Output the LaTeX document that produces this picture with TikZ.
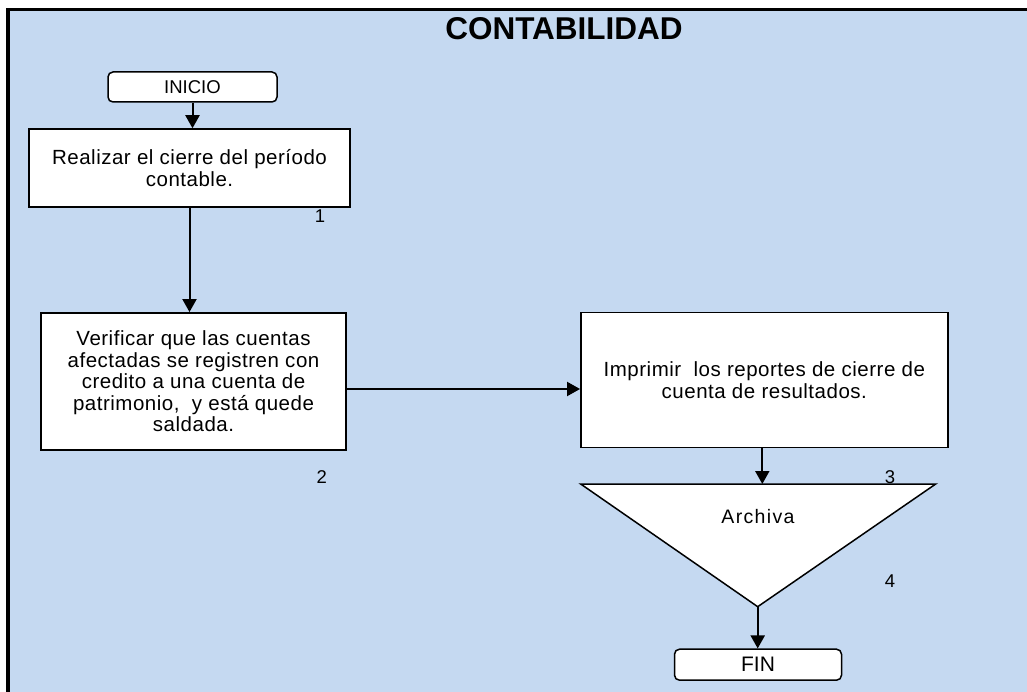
\documentclass[tikz,border=0pt]{standalone}
\usepackage{fontspec}
\setmainfont{Liberation Sans}
\newfontfamily\spacedfont[LetterSpace=2.5]{Liberation Sans}
\newfontfamily\widefont[LetterSpace=7]{Liberation Sans}
\usetikzlibrary{arrows.meta}
\definecolor{bgblue}{RGB}{197,217,241}
\tikzset{
  boxtext/.style={font=\spacedfont\fontsize{20.5}{21.5}\selectfont, align=center},
  procbox/.style={draw=black, line width=1.5pt, fill=white, rectangle, inner sep=0pt, boxtext},
  termbox/.style={draw=black, line width=1.5pt, fill=white, rectangle, rounded corners=5pt, inner sep=0pt},
  flow/.style={line width=2pt, -{Triangle[length=13pt,width=14pt]}},
  numlabel/.style={font=\fontsize{18.5}{20}\selectfont, inner sep=0pt}
}
\begin{document}
\begin{tikzpicture}[x=1pt,y=-1pt]
\useasboundingbox (0,0) rectangle (1027,692);
\fill[bgblue] (8,9.5) rectangle (1027,692);
\draw[line width=3.2pt] (8,692) -- (8,9.5) -- (1027,9.5);

\node[font=\fontsize{31.5}{33}\selectfont\bfseries, inner sep=0pt] (title) at (564,29) {CONTABILIDAD};

\node[termbox, minimum width=169pt, minimum height=30pt, font=\fontsize{18.5}{20}\selectfont] (inicio) at (192.5,87) {INICIO};

\node[procbox, minimum width=321pt, minimum height=78pt] (box1) at (189.5,168) {Realizar el cierre del período\\contable.};

\node[procbox, minimum width=305pt, minimum height=137pt] (box2) at (193.5,381.3) {Verificar que las cuentas\\afectadas se registren con\\credito a una cuenta de\\patrimonio,\ \ y está quede\\saldada.};

\node[procbox, minimum width=367pt, minimum height=135pt] (box3) at (764.3,380.2) {Imprimir\ \ los\ reportes de cierre de\\cuenta de resultados.};

\coordinate (tl) at (580.7,484);
\coordinate (tr) at (935.7,484);
\coordinate (ta) at (757.7,606.7);
\coordinate (tritop) at (762,484);
\draw[line width=1.5pt, fill=white, line join=miter] (tl) -- (tr) -- (ta) -- cycle;
\node[font=\widefont\fontsize{19.5}{21}\selectfont, inner sep=0pt] (archiva) at (758,516.7) {Archiva};

\node[termbox, minimum width=167pt, minimum height=31pt, font=\fontsize{21}{22}\selectfont] (fin) at (758,664.7) {FIN};

\node[numlabel] (n1) at (320,216) {1};
\node[numlabel] (n2) at (321.7,476.7) {2};
\node[numlabel] (n3) at (890,476.7) {3};
\node[numlabel] (n4) at (890,580.7) {4};

\draw[flow] (inicio.south) -- (inicio.south |- box1.north);
\draw[flow] (box1.south) -- (box1.south |- box2.north);
\draw[flow] ([yshift=-7.7pt]box2.east) -- ([yshift=-7.7pt]box2.east -| box3.west);
\draw[flow] ([xshift=-2pt]box3.south) -- ([xshift=-2pt]box3.south |- tritop);
\draw[flow] (ta) -- (ta |- fin.north);
\end{tikzpicture}
\end{document}
